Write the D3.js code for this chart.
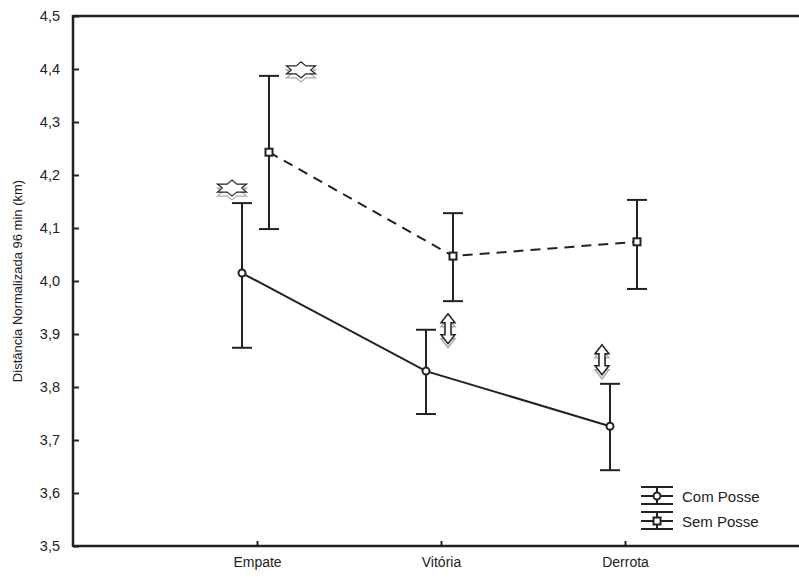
<!DOCTYPE html>
<html>
<head>
<meta charset="utf-8">
<script src="https://cdnjs.cloudflare.com/ajax/libs/d3/7.8.5/d3.min.js"></script>
<style>
  body { margin: 0; background: #fff; }
  text { font-family: "Liberation Sans", Arial, sans-serif; fill: #222; }
</style>
</head>
<body>
<div id="chart"></div>
<script>
// data
const categories = ["Empate", "Vitória", "Derrota"];
const comMean = [4.015, 3.830, 3.726];
const comUpper = [4.147, 3.908, 3.806];
const comLower = [3.874, 3.749, 3.643];
const semMean = [4.243, 4.047, 4.074];
const semUpper = [4.387, 4.128, 4.153];
const semLower = [4.098, 3.962, 3.985];
const yTicks = [3.5, 3.6, 3.7, 3.8, 3.9, 4.0, 4.1, 4.2, 4.3, 4.4, 4.5];

const svgWidth = 799, svgHeight = 579;
const margin = { top: 16, left: 73, bottom: 33 };
const plotRight = 809; // frame runs off the right edge
const dark = "#222";

const svg = d3.select("#chart").append("svg")
  .attr("width", svgWidth)
  .attr("height", svgHeight);

const x = d3.scalePoint()
  .domain(categories)
  .range([margin.left, plotRight])
  .padding(1);

const y = d3.scaleLinear()
  .domain([3.5, 4.5])
  .range([svgHeight - margin.bottom, margin.top]);

const fmt = d => d3.format(".1f")(d).replace(".", ",");

// y axis (ticks inward)
const yAxis = svg.append("g")
  .attr("transform", `translate(${margin.left},0)`)
  .call(d3.axisLeft(y).tickValues(yTicks).tickSize(-6).tickPadding(13).tickFormat(fmt));
yAxis.select(".domain").remove();
yAxis.selectAll("line").attr("stroke", dark).attr("stroke-width", 2);
yAxis.selectAll("text").style("font-size", "14.5px").attr("fill", dark);

// x axis
const xAxis = svg.append("g")
  .attr("transform", `translate(0,${y(3.5)})`)
  .call(d3.axisBottom(x).tickSize(-5).tickPadding(11));
xAxis.select(".domain").remove();
xAxis.selectAll("line").attr("stroke", dark).attr("stroke-width", 2);
xAxis.selectAll("text").style("font-size", "14px").attr("fill", dark);

// frame lines
svg.append("line").attr("x1", margin.left).attr("x2", svgWidth)
  .attr("y1", y(4.5)).attr("y2", y(4.5)).attr("stroke", dark).attr("stroke-width", 2.5);
svg.append("line").attr("x1", margin.left).attr("x2", svgWidth)
  .attr("y1", y(3.5)).attr("y2", y(3.5)).attr("stroke", dark).attr("stroke-width", 2.5);
svg.append("line").attr("x1", margin.left).attr("x2", margin.left)
  .attr("y1", y(4.5) - 1).attr("y2", y(3.5) + 1).attr("stroke", dark).attr("stroke-width", 2.5);

// y label
svg.append("text")
  .attr("transform", `translate(22,${(y(3.5) + y(4.5)) / 2}) rotate(-90)`)
  .attr("text-anchor", "middle")
  .style("font-size", "13px")
  .text("Distância Normalizada 96 min (km)");

const comOff = -15, semOff = 12;

function series(mean, upper, lower, off, dashed, marker) {
  const pts = categories.map((c, i) => ({ x: x(c) + off, m: mean[i], u: upper[i], l: lower[i] }));
  const line = d3.line().x(d => d.x).y(d => y(d.m));
  svg.append("path").datum(pts)
    .attr("d", line)
    .attr("fill", "none")
    .attr("stroke", dark)
    .attr("stroke-width", 2)
    .attr("stroke-dasharray", dashed ? "10,7" : null);

  const g = svg.append("g").attr("stroke", dark).attr("stroke-width", 2);
  pts.forEach(d => {
    g.append("line").attr("x1", d.x).attr("x2", d.x).attr("y1", y(d.u)).attr("y2", y(d.l));
    g.append("line").attr("x1", d.x - 10).attr("x2", d.x + 10).attr("y1", y(d.u)).attr("y2", y(d.u));
    g.append("line").attr("x1", d.x - 10).attr("x2", d.x + 10).attr("y1", y(d.l)).attr("y2", y(d.l));
    if (marker === "circle") {
      g.append("circle").attr("cx", d.x).attr("cy", y(d.m)).attr("r", 3.5).attr("fill", "#fff");
    } else {
      g.append("rect").attr("x", d.x - 3.5).attr("y", y(d.m) - 3.5)
        .attr("width", 7).attr("height", 7).attr("fill", "#fff");
    }
  });
  return pts;
}

const comPts = series(comMean, comUpper, comLower, comOff, false, "circle");
const semPts = series(semMean, semUpper, semLower, semOff, true, "square");

// significance symbols
function starPath(cx, cy) {
  const pts = [];
  for (let i = 0; i < 12; i++) {
    const a = Math.PI / 2 + i * Math.PI / 6;
    const r = i % 2 === 0 ? 8 : 4.6;
    pts.push([cx + Math.cos(a) * r * 2.1, cy - Math.sin(a) * r]);
  }
  return "M" + pts.map(p => p.join(",")).join("L") + "Z";
}
function star(cx, cy) {
  svg.append("path").attr("d", starPath(cx, cy + 4)).attr("fill", "#fff").attr("stroke", "#aaa").attr("stroke-width", 1.2);
  svg.append("path").attr("d", starPath(cx, cy)).attr("fill", "#fff").attr("stroke", dark).attr("stroke-width", 1.2);
}
function arrowPath(cx, top, bottom) {
  const hw = 7, sw = 3, hh = 9;
  return `M${cx},${top} L${cx + hw},${top + hh} L${cx + sw},${top + hh} L${cx + sw},${bottom - hh}
    L${cx + hw},${bottom - hh} L${cx},${bottom} L${cx - hw},${bottom - hh} L${cx - sw},${bottom - hh}
    L${cx - sw},${top + hh} L${cx - hw},${top + hh} Z`;
}
function arrow(cx, top, bottom) {
  svg.append("path").attr("d", arrowPath(cx, top + 4, bottom + 4)).attr("fill", "#fff").attr("stroke", "#aaa").attr("stroke-width", 1.5);
  svg.append("path").attr("d", arrowPath(cx, top, bottom)).attr("fill", "#fff").attr("stroke", dark).attr("stroke-width", 1.5);
}

star(comPts[0].x - 10, y(comUpper[0]) - 15);
star(semPts[0].x + 32, y(semUpper[0]) - 6);
arrow(comPts[1].x + 22, y(comUpper[1]) - 16, y(comUpper[1]) + 14);
arrow(comPts[2].x - 8, y(comUpper[2]) - 39, y(comUpper[2]) - 9);

// legend
const lg = svg.append("g").attr("stroke", dark).attr("stroke-width", 2);
const lx1 = 641, lx2 = 673, lxc = 657;
[487, 496, 504, 512, 521, 529].forEach(v => {
  lg.append("line").attr("x1", lx1).attr("x2", lx2).attr("y1", v).attr("y2", v);
});
lg.append("line").attr("x1", lxc).attr("x2", lxc).attr("y1", 487).attr("y2", 504);
lg.append("line").attr("x1", lxc).attr("x2", lxc).attr("y1", 512).attr("y2", 529);
lg.append("circle").attr("cx", lxc).attr("cy", 496).attr("r", 3.5).attr("fill", "#fff");
lg.append("rect").attr("x", lxc - 3.5).attr("y", 521 - 3.5).attr("width", 7).attr("height", 7).attr("fill", "#fff");
svg.append("text").attr("x", 682).attr("y", 502).style("font-size", "15px").text("Com Posse");
svg.append("text").attr("x", 682).attr("y", 527).style("font-size", "15px").text("Sem Posse");
</script>
</body>
</html>
